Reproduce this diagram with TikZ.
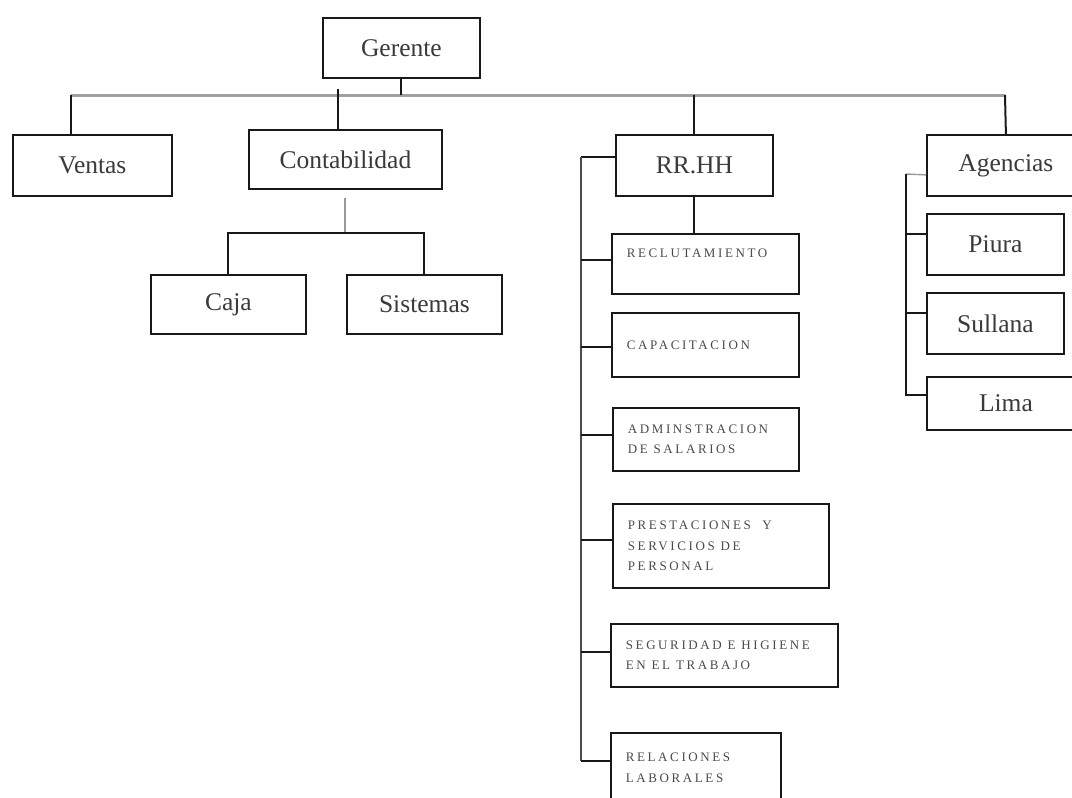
\documentclass[tikz,border=0pt]{standalone}
\usepackage{fontspec}
\setmainfont{Liberation Serif}
\newfontfamily\smallfnt[LetterSpace=20]{Liberation Serif}
\definecolor{txt}{HTML}{3A3A3A}
\definecolor{stxt}{HTML}{4A4A4A}
\definecolor{busgray}{HTML}{A0A0A0}
\newcommand{\ws}{\hspace{0.45em}}
\begin{document}
\begin{tikzpicture}[x=1pt,y=-1pt,
  bigbox/.style={draw=black!90, line width=1.8pt, anchor=north west, inner sep=0pt,
    font=\fontsize{25.5}{30}\selectfont, text=txt},
  smallbox/.style={draw=black!90, line width=1.8pt, anchor=north west, inner xsep=15pt, inner ysep=0pt,
    align=left, font=\smallfnt\fontsize{13}{20.5}\selectfont, text=stxt},
  conn/.style={draw=black!90, line width=2pt},
  bus/.style={draw=busgray, line width=3pt},
  graystem/.style={draw=black!40, line width=2pt},
  spine/.style={draw=black!70, line width=1.8pt}]
\useasboundingbox (0,0) rectangle (1072,798);
% top level
\node[bigbox, minimum width=157pt, minimum height=60pt] (gerente) at (322,17) {Gerente};
\node[bigbox, minimum width=159pt, minimum height=61pt] (ventas) at (12,134) {Ventas};
\node[bigbox, minimum width=193pt, minimum height=59pt] (conta) at (248,129) {Contabilidad};
\node[bigbox, minimum width=155pt, minimum height=59pt] (caja) at (150,274) {Caja};
\node[bigbox, minimum width=155pt, minimum height=59pt] (sist) at (346,274) {Sistemas};
\node[bigbox, minimum width=157pt, minimum height=61pt] (rrhh) at (615,134) {RR.HH};
\node[bigbox, minimum width=158pt, minimum height=61pt] (agen) at (926,134) {Agencias};
\node[bigbox, minimum width=137pt, minimum height=61pt] (piura) at (926,213) {Piura};
\node[bigbox, minimum width=137pt, minimum height=61pt] (sull) at (926,292) {Sullana};
\node[bigbox, minimum width=158pt, minimum height=53pt] (lima) at (926,376) {Lima};
% RR.HH boxes
\node[smallbox, text width=157pt, minimum height=60pt] (recl) at (611,233) {RECLUTAMIENTO\\\mbox{}};
\node[smallbox, text width=157pt, minimum height=64pt] (capa) at (611,312) {CAPACITACION};
\node[smallbox, text width=156pt, minimum height=63pt] (admin) at (612,407) {ADMINSTRACION\\DE\ws SALARIOS};
\node[smallbox, text width=186pt, minimum height=84pt] (prest) at (612,503) {PRESTACIONES\ws\ws Y\\SERVICIOS\ws DE\\PERSONAL};
\node[smallbox, text width=197pt, minimum height=63pt] (segur) at (610,623) {SEGURIDAD\ws E\ws HIGIENE\\EN\ws EL\ws TRABAJO};
\node[smallbox, text width=140pt, minimum height=70pt] (relac) at (610,732) {RELACIONES\\LABORALES};
% main bus
\coordinate (busL) at (71,95);
\coordinate (busR) at (1005,95);
\coordinate (cs) at (338,89);
\draw[bus] (busL) -- (busR);
\draw[conn] (gerente.south) -- (gerente.south |- busL);
\draw[conn] (busL) -- (busL |- ventas.north);
\draw[conn] (cs) -- (cs |- conta.north);
\draw[conn] (rrhh.north) -- (rrhh.north |- busL);
\draw[conn] (busR) -- (agen.north);
% Contabilidad children
\coordinate (cb) at (345,233);
\draw[graystem] ([yshift=-8pt]conta.south) -- (conta.south |- cb);
\draw[conn] (caja.north) |- (cb) -| (sist.north);
% RR.HH children
\draw[conn] (rrhh.south) -- (rrhh.south |- recl.north);
\coordinate (sp) at (581,157);
\coordinate (rc) at ([yshift=4pt]recl.west);
\coordinate (cc) at ([yshift=-2pt]capa.west);
\coordinate (ac) at ([yshift=4.5pt]admin.west);
\coordinate (pc) at ([yshift=6pt]prest.west);
\coordinate (sc) at ([yshift=3.5pt]segur.west);
\coordinate (lc) at ([yshift=7pt]relac.west);
\draw[conn] (rrhh.west |- sp) -- (sp);
\draw[spine] (sp) -- (sp |- lc);
\draw[conn] (sp |- lc) -- (lc);
\foreach \c in {rc,cc,ac,pc,sc} \draw[conn] (sp |- \c) -- (\c);
% Agencias children
\coordinate (ag) at (906,174);
\coordinate (agc) at ([yshift=-9.5pt]agen.west);
\coordinate (pic) at ([yshift=10.5pt]piura.west);
\coordinate (suc) at ([yshift=10.5pt]sull.west);
\coordinate (lic) at ([yshift=8.5pt]lima.west);
\draw[graystem, line width=1.4pt] (agc) -- (ag);
\draw[conn] (ag) |- (lic);
\draw[conn] (ag |- pic) -- (pic);
\draw[conn] (ag |- suc) -- (suc);
\end{tikzpicture}
\end{document}
